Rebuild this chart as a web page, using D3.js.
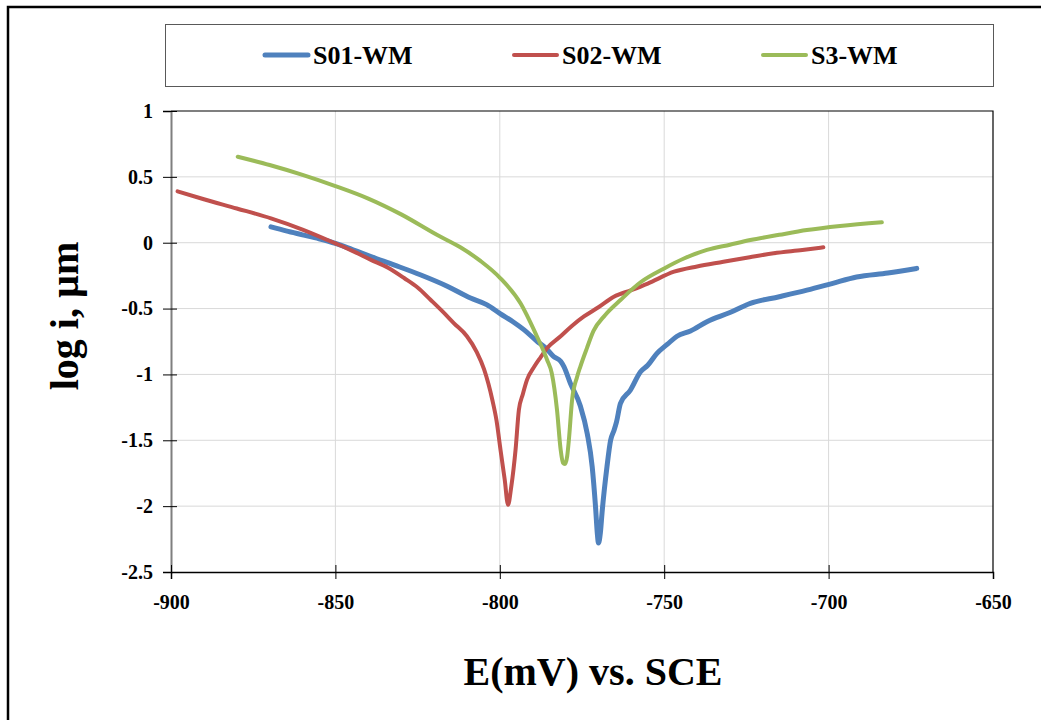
<!DOCTYPE html>
<html>
<head>
<meta charset="utf-8">
<script src="https://cdn.jsdelivr.net/npm/d3@7"></script>
<style>
  body { margin: 0; background: #fff; }
  text { font-family: "Liberation Serif", "Times New Roman", serif; font-weight: bold; fill: #000; }
</style>
</head>
<body>
<div id="chart"></div>
<script>
// E (mV vs. SCE), log i
const s01 = [
    [-869.6, 0.12], [-865, 0.09], [-860, 0.06], [-855, 0.03], [-850, -0.005], [-845, -0.05],
    [-839.2, -0.105], [-832, -0.17], [-824, -0.245], [-816, -0.33], [-808.9, -0.42], [-804, -0.47],
    [-799.8, -0.54], [-796, -0.6], [-792.7, -0.66], [-788.6, -0.75], [-786, -0.8], [-783.6, -0.865],
    [-781.5, -0.9], [-780.5, -0.94], [-778.5, -1.07], [-775.5, -1.24], [-773.4, -1.45], [-771.9, -1.7],
    [-770.9, -2.0], [-770.3, -2.22], [-770.0, -2.28], [-769.4, -2.2], [-768.9, -2.05], [-767.4, -1.7],
    [-766.3, -1.5], [-765.2, -1.42], [-764.5, -1.36], [-763.3, -1.22], [-760.3, -1.12], [-757.2, -0.98],
    [-755, -0.93], [-752.2, -0.84], [-749, -0.77], [-746.1, -0.71], [-742, -0.67], [-737, -0.6],
    [-730, -0.53], [-723.8, -0.46], [-715, -0.41], [-706.6, -0.36], [-699, -0.31], [-691.5, -0.26],
    [-682, -0.23], [-673.2, -0.195]
]

const s02 = [
    [-898, 0.39], [-890, 0.33], [-880, 0.26], [-869.6, 0.185], [-860, 0.1], [-850, -0.005],
    [-845, -0.06], [-839.2, -0.13], [-834, -0.19], [-829, -0.27], [-825, -0.34], [-821, -0.435],
    [-817.5, -0.52], [-814, -0.61], [-810, -0.71], [-807, -0.83], [-804.8, -0.96], [-802.3, -1.19],
    [-801, -1.35], [-799.8, -1.57], [-798.5, -1.8], [-797.5, -1.99], [-796.5, -1.85], [-795.2, -1.57],
    [-794.2, -1.27], [-793, -1.15], [-791.7, -1.04], [-789.5, -0.94], [-787.6, -0.87], [-785.6, -0.8],
    [-781.5, -0.71], [-778, -0.63], [-774.4, -0.56], [-770, -0.49], [-765.3, -0.41], [-760, -0.36],
    [-755, -0.31], [-747, -0.22], [-740, -0.18], [-732, -0.145], [-724, -0.11], [-716.7, -0.08],
    [-708, -0.055], [-701.6, -0.035]
]

const s3 = [
    [-879.7, 0.653], [-870, 0.59], [-860, 0.515], [-850, 0.43], [-840, 0.335], [-830, 0.215],
    [-819, 0.058], [-812, -0.035], [-805.8, -0.14], [-799.8, -0.27], [-793.7, -0.46], [-789.1, -0.69],
    [-785.6, -0.89], [-784.2, -0.99], [-782.6, -1.27], [-781.5, -1.57], [-780.8, -1.67], [-780.2, -1.68],
    [-779.5, -1.62], [-779, -1.5], [-778, -1.19], [-776.5, -1.02], [-775.5, -0.94], [-773.5, -0.8],
    [-771.5, -0.67], [-768, -0.55], [-763.3, -0.435], [-757.2, -0.3], [-750, -0.195], [-744, -0.12],
    [-737, -0.055], [-730, -0.015], [-723.8, 0.02], [-715, 0.06], [-706.6, 0.096], [-696.5, 0.127],
    [-683.8, 0.155]
]

const seriesNames = ['S01-WM', 'S02-WM', 'S3-WM']
const seriesColors = ['#4F81BD', '#C0504D', '#9BBB59']
const xTicks = [-900, -850, -800, -750, -700, -650]
const yTicks = [1, 0.5, 0, -0.5, -1, -1.5, -2, -2.5]

const width = 1041, height = 720
const plot = { left: 171, right: 993, top: 111, bottom: 572 }

const svg = d3.select('#chart').append('svg')
    .attr('width', width)
    .attr('height', height)

// outer frame (cut by the picture edge)
svg.append('rect')
    .attr('x', 8).attr('y', 7)
    .attr('width', width + 20).attr('height', height + 20)
    .attr('fill', 'none').attr('stroke', '#000').attr('stroke-width', 2.5)

const x = d3.scaleLinear().domain([-900, -650]).range([plot.left, plot.right])
const y = d3.scaleLinear().domain([-2.5, 1]).range([plot.bottom, plot.top])

// grid
svg.append('g').selectAll('line')
    .data(xTicks.slice(1, -1))
    .join('line')
    .attr('x1', d => x(d)).attr('x2', d => x(d))
    .attr('y1', plot.top).attr('y2', plot.bottom)
    .attr('stroke', '#d9d9d9').attr('stroke-width', 1)

svg.append('g').selectAll('line')
    .data(yTicks.slice(1, -1))
    .join('line')
    .attr('x1', plot.left).attr('x2', plot.right)
    .attr('y1', d => y(d)).attr('y2', d => y(d))
    .attr('stroke', '#d9d9d9').attr('stroke-width', 1)

// plot border top / right
svg.append('path')
    .attr('d', `M${plot.left},${plot.top} H${plot.right} V${plot.bottom}`)
    .attr('fill', 'none').attr('stroke', '#000').attr('stroke-width', 1.2)

const fmt = d => String(d)

// y axis
const yAxis = svg.append('g')
    .attr('transform', `translate(${plot.left},0)`)
    .call(d3.axisLeft(y).tickValues(yTicks).tickSize(8).tickPadding(10).tickFormat(fmt))
yAxis.select('.domain').attr('stroke', '#7f7f7f').attr('stroke-width', 2)
yAxis.selectAll('.tick line').attr('x1', 6).attr('stroke', '#000')
yAxis.selectAll('.tick text').style('font-size', '20px')

// x axis
const xAxis = svg.append('g')
    .attr('transform', `translate(0,${plot.bottom})`)
    .call(d3.axisBottom(x).tickValues(xTicks).tickSize(7).tickPadding(16).tickFormat(fmt))
xAxis.select('.domain').attr('stroke', '#000').attr('stroke-width', 1.5)
xAxis.selectAll('.tick line').attr('y1', d => d === -650 ? 0 : -7).attr('stroke', '#000')
xAxis.selectAll('.tick text').style('font-size', '20px')

// curves
const line = d3.line()
    .x(d => x(d[0]))
    .y(d => y(d[1]))
    .curve(d3.curveMonotoneX)

const allSeries = [s01, s02, s3]

svg.append('g').selectAll('path')
    .data(allSeries)
    .join('path')
    .attr('d', line)
    .attr('fill', 'none')
    .attr('stroke', (d, i) => seriesColors[i])
    .attr('stroke-width', (d, i) => i === 0 ? 5 : 4)
    .attr('stroke-linejoin', 'round')
    .attr('stroke-linecap', 'round')

// legend
svg.append('rect')
    .attr('x', 165.5).attr('y', 24.5)
    .attr('width', 828).attr('height', 62)
    .attr('fill', '#fff').attr('stroke', '#595959').attr('stroke-width', 1)

const legendItems = svg.append('g').selectAll('g')
    .data(seriesNames)
    .join('g')
    .attr('transform', (d, i) => `translate(${265 + i * 249},55)`)

legendItems.append('line')
    .attr('x1', 0).attr('x2', 43)
    .attr('stroke', (d, i) => seriesColors[i])
    .attr('stroke-width', (d, i) => i === 0 ? 5 : 4)
    .attr('stroke-linecap', 'round')

legendItems.append('text')
    .attr('x', 48).attr('y', 9)
    .style('font-size', '26px')
    .text(d => d)

// axis titles
svg.append('text')
    .attr('x', (plot.left + plot.right) / 2 + 11)
    .attr('y', 685)
    .attr('text-anchor', 'middle')
    .style('font-size', '40px')
    .text('E(mV) vs. SCE')

svg.append('text')
    .attr('transform', 'translate(78,316) rotate(-90)')
    .attr('text-anchor', 'middle')
    .style('font-size', '40px')
    .text('log i, µm')
</script>
</body>
</html>
